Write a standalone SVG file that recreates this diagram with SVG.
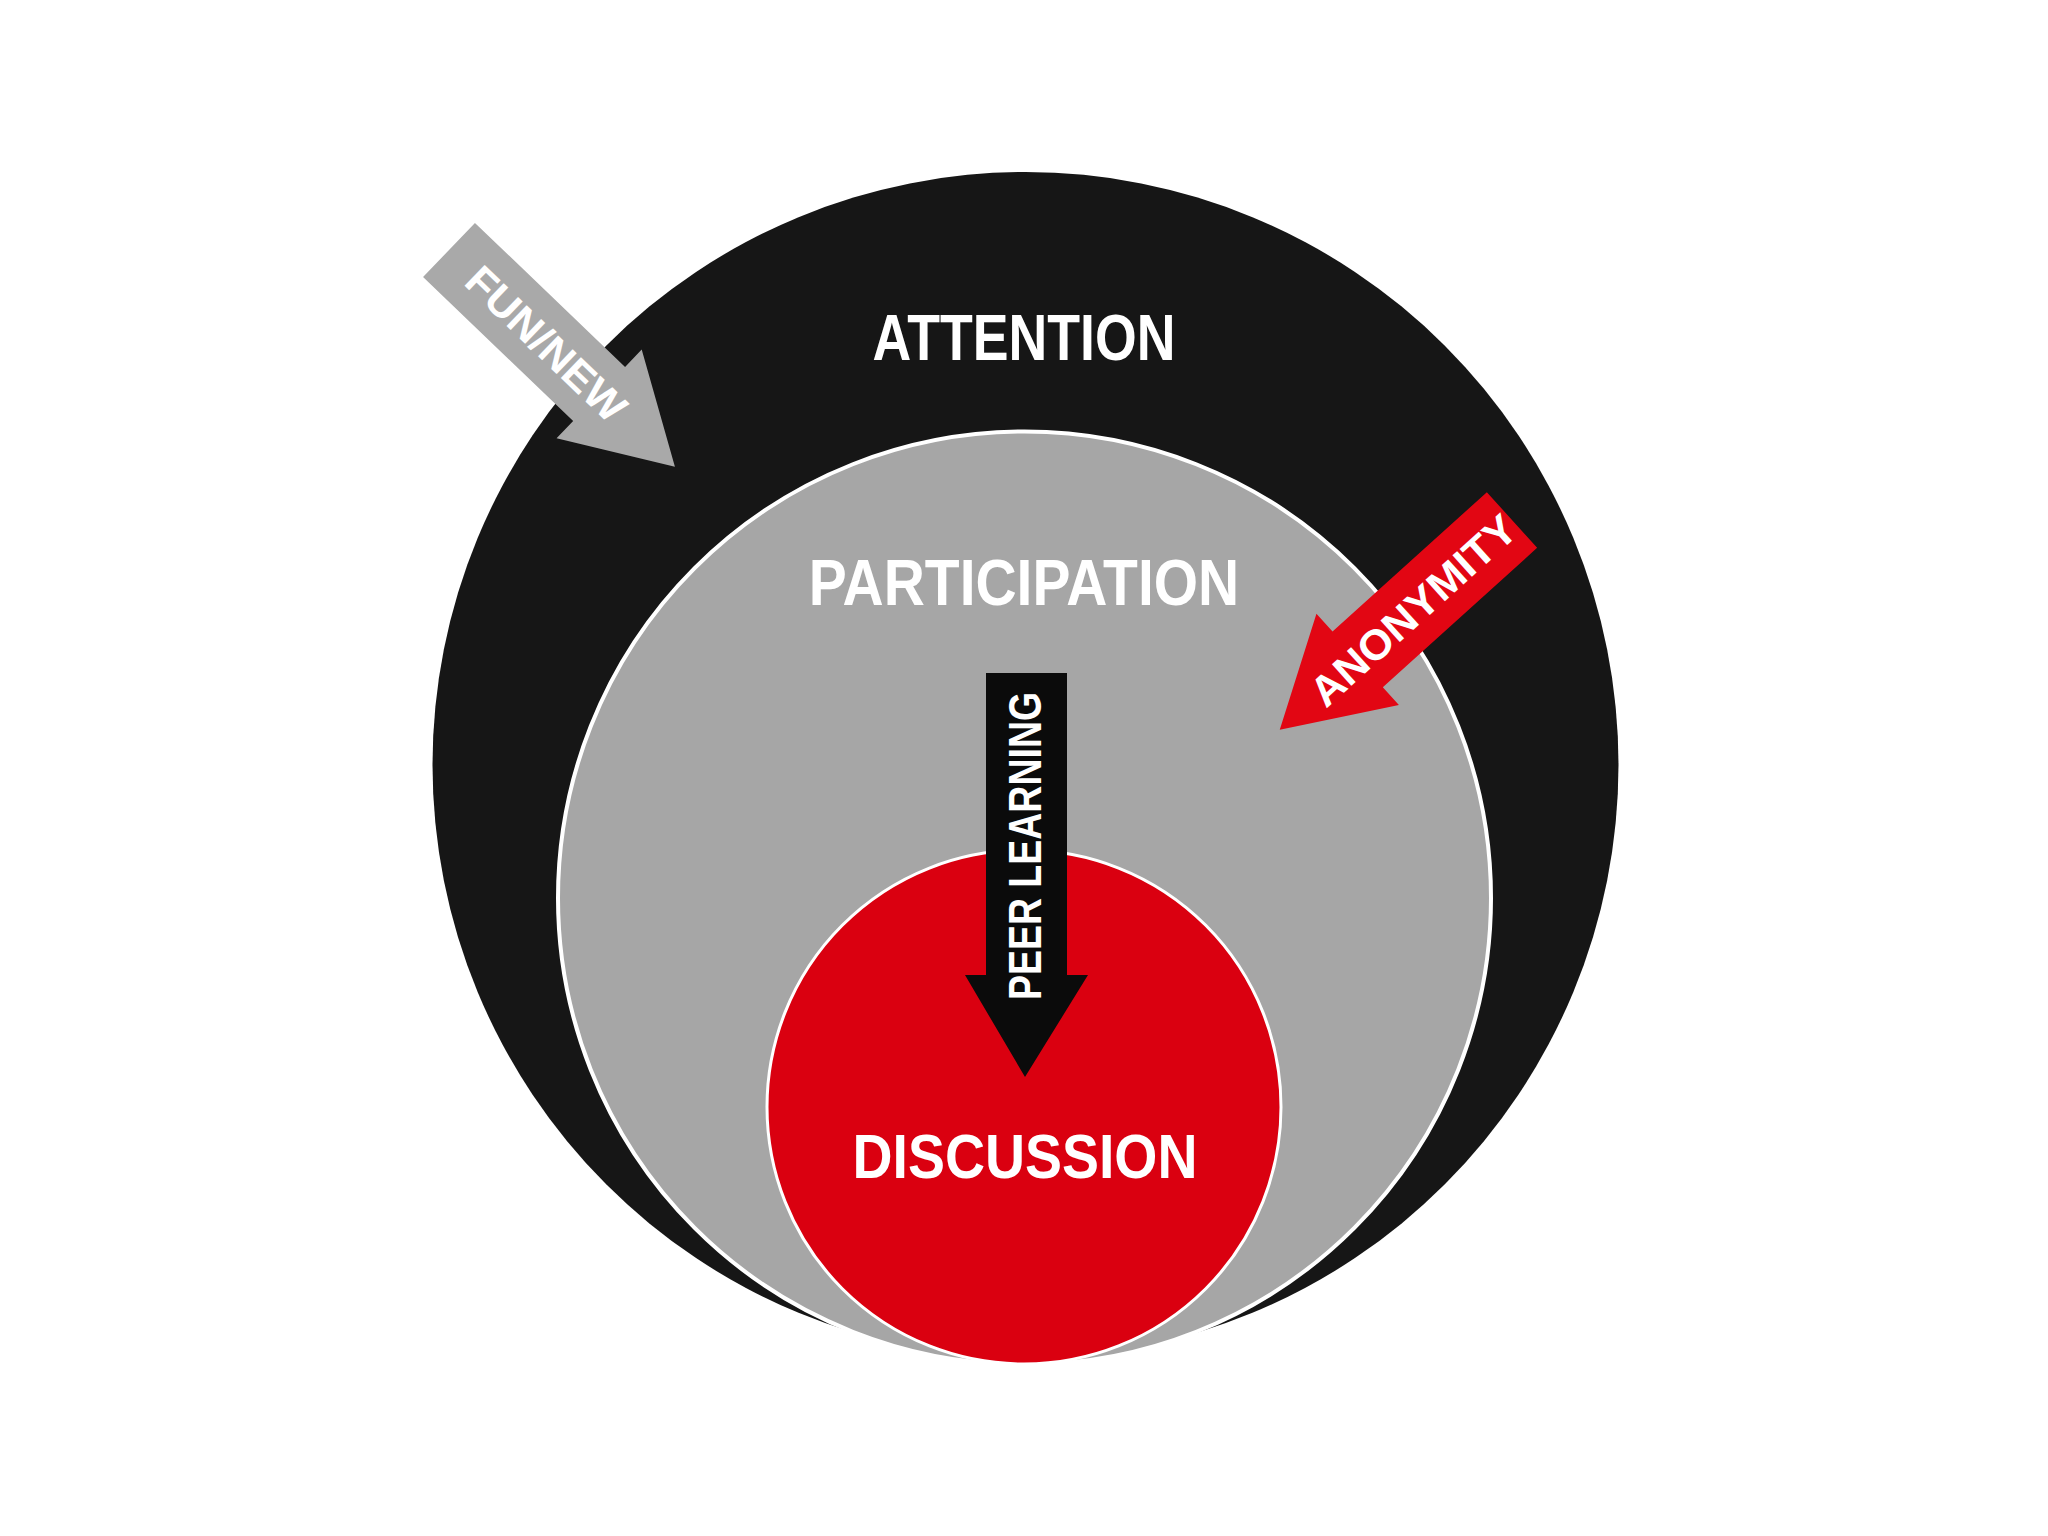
<svg xmlns="http://www.w3.org/2000/svg" width="2048" height="1536" viewBox="0 0 2048 1536">
  <style>
    .lbl { font-family: "Liberation Sans", Arial, sans-serif; font-weight: bold; fill: #ffffff; text-anchor: middle; }
  </style>
  <defs>
    <polygon id="diagArrow" points="0,-37.5 208,-37.5 208,-61.5 313,0 208,61.5 208,37.5 0,37.5"/>
  </defs>
  <rect x="0" y="0" width="2048" height="1536" fill="#ffffff"/>

  <g id="attention">
    <circle cx="1025.5" cy="765" r="593" fill="#161616"/>
    <text class="lbl" transform="translate(1024,360) scale(0.825,1)" font-size="65">ATTENTION</text>
  </g>

  <g id="participation">
    <circle cx="1024.5" cy="898" r="466.5" fill="#a6a6a6" stroke="#ffffff" stroke-width="4"/>
    <text class="lbl" transform="translate(1024,605) scale(0.89,1)" font-size="64" fill="#f7f7f7">PARTICIPATION</text>
  </g>

  <g id="discussion">
    <circle cx="1024" cy="1107" r="257" fill="#da0010" stroke="#ffffff" stroke-width="3"/>
    <text class="lbl" transform="translate(1025,1178) scale(0.88,1)" font-size="63">DISCUSSION</text>
  </g>

  <g id="connectors">
    <g id="fun-new">
      <use href="#diagArrow" transform="translate(449,250) rotate(43.8)" fill="#a9a9a9"/>
      <text class="lbl" transform="translate(546.5,343.4) rotate(43.8) scale(1.04,1)" x="0" y="15" font-size="42" fill="#f2f2f2">FUN/NEW</text>
    </g>
    <g id="anonymity">
      <use href="#diagArrow" transform="translate(1512,520) rotate(137.9)" fill="#e20613"/>
      <text class="lbl" transform="translate(1413,610) rotate(-42.1) scale(1.04,1)" x="0" y="15" font-size="42" fill="#fbecec">ANONYMITY</text>
    </g>
    <g id="peer-learning">
      <polygon points="986,673 1067,673 1067,975 1088,975 1025,1077 965,975 986,975" fill="#0b0b0b"/>
      <text class="lbl" transform="translate(1041,846) rotate(-90) scale(0.815,1)" x="0" y="0" font-size="46">PEER LEARNING</text>
    </g>
  </g>
</svg>
